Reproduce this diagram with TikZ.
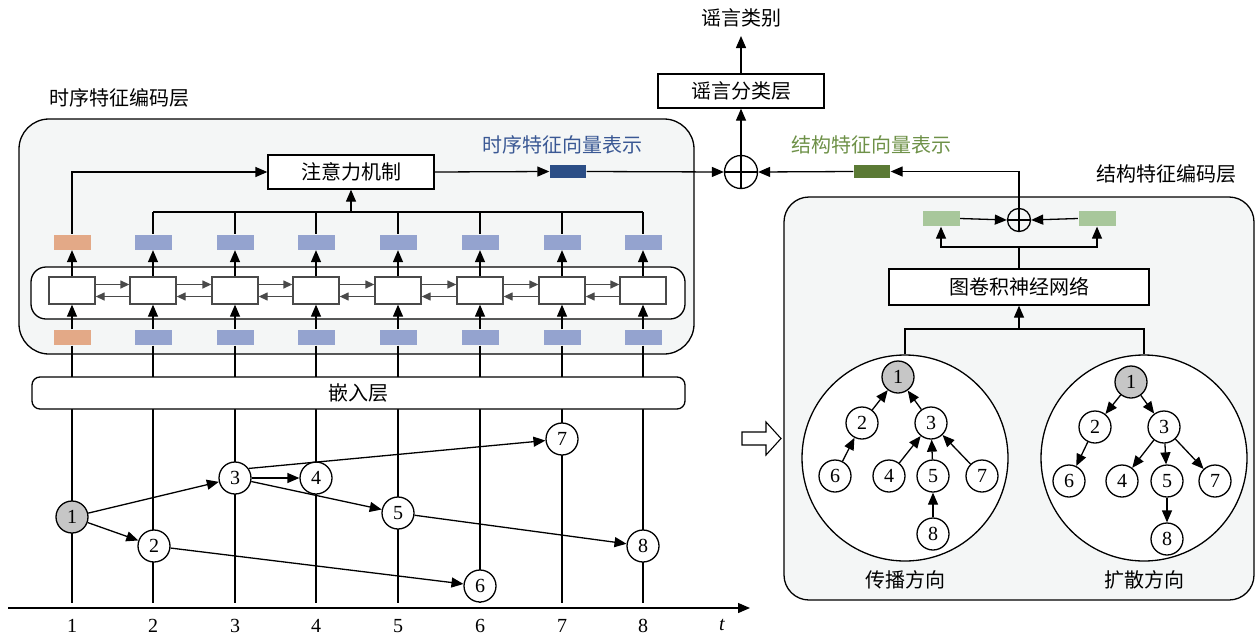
\documentclass[tikz,border=0pt]{standalone}
\usepackage{fontspec}
\setmainfont{Liberation Serif}
\newfontfamily\cjk{Noto Sans CJK SC}
\usetikzlibrary{arrows.meta,calc}
\definecolor{orangebox}{HTML}{E3A987}
\definecolor{bluebox}{HTML}{94A3CF}
\definecolor{darkblue}{HTML}{2B4E86}
\definecolor{darkgreen}{HTML}{5B7A35}
\definecolor{lightgreen}{HTML}{A8C79B}
\definecolor{panel}{HTML}{F4F6F6}
\definecolor{bluetext}{HTML}{3A5894}
\definecolor{greentext}{HTML}{6E9148}
\definecolor{cellgray}{HTML}{4A4A4A}
\tikzset{
  arr/.style={-{Triangle[length=12pt,width=10pt]}},
  sarr/.style={-{Triangle[length=9pt,width=8pt]}, draw=cellgray},
  vec/.style={minimum width=37pt, minimum height=15pt, inner sep=0pt},
  cell/.style={draw=cellgray, fill=white, minimum width=46pt, minimum height=27pt, inner sep=0pt},
  tnode/.style={circle, draw, fill=white, minimum size=32pt, inner sep=0pt, font=\fontsize{20}{20}\selectfont},
  gnode/.style={tnode, fill=gray!45},
  box/.style={draw, fill=white, inner sep=0pt},
  cn/.style={font=\cjk\fontsize{20}{24}\selectfont},
  num/.style={font=\fontsize{20}{20}\selectfont},
}
\begin{document}
\begin{tikzpicture}[x=1pt,y=-1pt,line width=1.3pt]
\useasboundingbox (0,0) rectangle (1257,637);

% ---------- temporal encoder panel ----------
\draw[fill=panel, rounded corners=30pt] (19,119) rectangle (694,354);
\node[cn] (enclabel) at (119,98) {时序特征编码层};
\draw[fill=white, rounded corners=15pt] (31,267) rectangle (685,319);

\node[cell] (c1) at (72,290.5) {};
\node[vec, fill=orangebox] (o1) at (72,242) {};
\node[vec, fill=orangebox] (in1) at (72,337.5) {};
\foreach \i/\x in {2/153,3/235,4/316,5/398,6/480,7/562,8/643}{
  \node[cell] (c\i) at (\x,290.5) {};
  \node[vec, fill=bluebox] (o\i) at (\x,242) {};
  \node[vec, fill=bluebox] (in\i) at (\x,337.5) {};
}
\foreach \i in {1,...,8}{
  \draw[arr, draw=black] (in\i.north) -- (c\i.south);
  \draw[arr, draw=black] (c\i.north) -- (o\i.south);
}
\foreach \i/\j in {1/2,2/3,3/4,4/5,5/6,6/7,7/8}{
  \draw[sarr] ($(c\i.east)+(0,-6)$) -- ($(c\j.west)+(0,-6)$);
  \draw[sarr] ($(c\j.west)+(0,6)$) -- ($(c\i.east)+(0,6)$);
}

\node[box, cn, minimum width=166pt, minimum height=34pt] (att) at (351,172) {注意力机制};
\coordinate (hl) at (153,212);
\coordinate (hr) at (643,212);
\draw (hl) -- (hr);
\foreach \i in {2,...,8}{ \draw (o\i.north) -- (o\i.north |- hl); }
\draw[arr] (att.south |- hl) -- (att.south);
\draw[arr] (o1.north) |- (att.west);

\node[vec, fill=darkblue, minimum width=36pt, minimum height=13pt] (tv) at (568,171.5) {};
\node[cn, text=bluetext] (tvl) at (562,145) {时序特征向量表示};

% ---------- fusion and classifier ----------
\node[circle, draw, minimum size=33pt, inner sep=0pt] (plus) at (741,172) {};
\draw (plus.north) -- (plus.south);
\draw (plus.west) -- (plus.east);
\draw[arr] (att.east) -- (tv.west);
\draw[arr] (tv.east) -- (plus.west);
\node[box, cn, minimum width=166pt, minimum height=34pt] (cls) at (741,91) {谣言分类层};
\draw[arr] (plus.north) -- (cls.south);
\node[cn] (cat) at (741,18) {谣言类别};
\coordinate (catb) at (741,36);
\draw[arr] (cls.north) -- (catb);

% ---------- structural encoder ----------
\node[cn, text=greentext] (svl) at (871,145) {结构特征向量表示};
\node[vec, fill=darkgreen, minimum width=36pt, minimum height=13pt] (sv) at (872,171.5) {};
\draw[fill=panel, rounded corners=25pt] (784,197) rectangle (1254,600);
\node[cn] (senclabel) at (1166,174) {结构特征编码层};
\node[circle, draw, minimum size=23pt, inner sep=0pt] (sp) at (1019,220) {};
\draw (sp.north) -- (sp.south);
\draw (sp.west) -- (sp.east);
\draw[arr] (sp.north) |- (sv.east);
\draw[arr] (sv.west) -- (plus.east);
\node[vec, fill=lightgreen] (g1) at (941,218.5) {};
\node[vec, fill=lightgreen] (g2) at (1097,218.5) {};
\draw[arr] (g1.east) -- (sp.west);
\draw[arr] (g2.west) -- (sp.east);
\node[box, cn, minimum width=260pt, minimum height=36pt] (gcn) at (1019,287) {图卷积神经网络};
\coordinate (gj) at (1019,247);
\draw (gcn.north) -- (gj);
\draw[arr] (gj) -| (g1.south);
\draw[arr] (gj) -| (g2.south);

\node[circle, draw, fill=white, minimum size=206pt, inner sep=0pt] (pc) at (905,458) {};
\node[circle, draw, fill=white, minimum size=206pt, inner sep=0pt] (dc) at (1144,458) {};
\coordinate (bj) at (1019,329);
\draw[arr] (bj) -- (gcn.south);
\draw (pc.north) |- (dc.north |- bj) -- (dc.north);
\node[cn] (pl) at (905,580) {传播方向};
\node[cn] (dl) at (1144,580) {扩散方向};

% propagation tree
\node[gnode] (p1) at (898,377) {1};
\node[tnode] (p2) at (862,423) {2};
\node[tnode] (p3) at (931,423) {3};
\node[tnode] (p6) at (835,476) {6};
\node[tnode] (p4) at (889,476) {4};
\node[tnode] (p5) at (933,476) {5};
\node[tnode] (p7) at (982,476) {7};
\node[tnode] (p8) at (933,534) {8};
\foreach \a/\b in {2/1,3/1,6/2,4/3,5/3,7/3,8/5}{ \draw[arr] (p\a) -- (p\b); }

% dispersion tree
\node[gnode] (d1) at (1131,382) {1};
\node[tnode] (d2) at (1095,427) {2};
\node[tnode] (d3) at (1164,427) {3};
\node[tnode] (d6) at (1069,481) {6};
\node[tnode] (d4) at (1122,481) {4};
\node[tnode] (d5) at (1167,481) {5};
\node[tnode] (d7) at (1215,481) {7};
\node[tnode] (d8) at (1167,539) {8};
\foreach \a/\b in {1/2,1/3,2/6,3/4,3/5,3/7,5/8}{ \draw[arr] (d\a) -- (d\b); }

% hollow arrow
\draw[fill=white, line width=1.1pt] (742,432) -- (766,432) -- (766,422) -- (781,438.5) -- (766,455) -- (766,445) -- (742,445) -- cycle;

% ---------- timeline ----------
\foreach \i/\x in {1/72,2/153,3/235,4/316,5/398,6/480,7/562,8/643}{
  \coordinate (b\i) at (\x,603);
  \draw (in\i.south) -- (b\i);
  \node[num] (lab\i) at (\x,626) {\i};
}
\node[draw, fill=white, rounded corners=8pt, minimum width=653pt, minimum height=32pt, inner sep=0pt, cn] (emb) at (358.5,393) {嵌入层};
\coordinate (ax0) at (8,608);
\coordinate (ax1) at (750,608);
\draw[arr] (ax0) -- (ax1);
\node[num] (tlab) at (722,625) {\textit{t}};

\node[gnode] (t1) at (72,517) {1};
\node[tnode] (t2) at (154,546) {2};
\node[tnode] (t3) at (235,478) {3};
\node[tnode] (t4) at (316,478) {4};
\node[tnode] (t5) at (398,513) {5};
\node[tnode] (t6) at (480,586) {6};
\node[tnode] (t7) at (562,439) {7};
\node[tnode] (t8) at (643,546) {8};
\foreach \a/\b in {1/3,1/2,3/4,3/5,5/8,2/6}{ \draw[arr] (t\a) -- (t\b); }
\draw[arr] (t3.35) -- (t7);
\end{tikzpicture}
\end{document}
